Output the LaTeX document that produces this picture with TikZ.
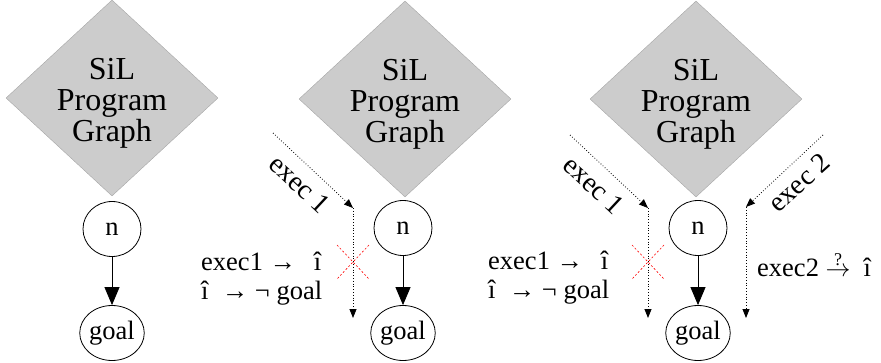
\documentclass[tikz,border=0pt]{standalone}
\usepackage{fontspec}
\setmainfont{Liberation Serif}
\usetikzlibrary{shapes.geometric,arrows.meta}
\begin{document}
\begin{tikzpicture}[x=1pt,y=-1pt,
  prog/.style={diamond, draw=black!35, fill=black!20, minimum width=212pt, minimum height=196pt, inner sep=0pt, aspect=1.08},
  progtext/.style={align=center, inner sep=0pt, font=\fontsize{32}{31}\selectfont},
  state/.style={ellipse, draw, line width=0.8pt, minimum width=58pt, minimum height=55pt, inner sep=0pt, font=\fontsize{26.5}{30}\selectfont},
  trans/.style={draw, line width=0.8pt, -{Triangle[length=18pt,width=15pt]}},
  exec/.style={dotted, line width=0.8pt, -{Triangle[length=9pt,width=7pt]}},
  lbl/.style={font=\fontsize{26.5}{29}\selectfont, inner sep=0pt},
  rlbl/.style={font=\fontsize{28}{29}\selectfont, inner sep=0pt},
  cross/.style={red, line width=0.6pt, dash pattern=on 2pt off 2pt}
]
\useasboundingbox (0,0) rectangle (881,362);

% panel 1
\node[prog] (g1) at (112,98) {};
\node[progtext] (g1t) at (112,103) {SiL\\Program\\Graph};
\node[state] (n1) at (112,229) {n};
\node[state] (goal1) at (112,333) {goal};
\draw[trans] (n1) -- (goal1);

% panel 2
\node[prog] (g2) at (405,99) {};
\node[progtext] (g2t) at (405,104) {SiL\\Program\\Graph};
\node[state] (n2) at (403,228) {n};
\node[state] (goal2) at (403,333) {goal};
\draw[trans] (n2) -- (goal2);
\coordinate (a2s) at (273,133);
\coordinate (a2m) at (353,208);
\coordinate (a2e) at (353,318);
\draw[exec] (a2s) -- (a2m);
\draw[exec] (a2m) -- (a2e);
\node[rlbl, rotate=-43] (l2) at (300,184) {exec 1};
\coordinate (x2a) at (337,245);
\coordinate (x2b) at (369,279);
\coordinate (x2c) at (369,245);
\coordinate (x2d) at (337,279);
\draw[cross] (x2a) -- (x2b);
\draw[cross] (x2c) -- (x2d);
\node[lbl, anchor=west, align=left] (t2) at (201,279) {exec1 → \ \,î\\î \ → ¬ goal};

% panel 3
\node[prog] (g3) at (696,99) {};
\node[progtext] (g3t) at (696,104) {SiL\\Program\\Graph};
\node[state] (n3) at (698,228) {n};
\node[state] (goal3) at (698,333) {goal};
\draw[trans] (n3) -- (goal3);
\coordinate (a3s) at (570,135);
\coordinate (a3m) at (648,208);
\coordinate (a3e) at (648,318);
\draw[exec] (a3s) -- (a3m);
\draw[exec] (a3m) -- (a3e);
\node[rlbl, rotate=-43] (l3) at (594,185) {exec 1};
\coordinate (x3a) at (632,245);
\coordinate (x3b) at (664,279);
\coordinate (x3c) at (664,245);
\coordinate (x3d) at (632,279);
\draw[cross] (x3a) -- (x3b);
\draw[cross] (x3c) -- (x3d);
\node[lbl, anchor=west, align=left] (t3) at (488,278) {exec1 → \ \,î\\î \ → ¬ goal};

\coordinate (b3s) at (823,135);
\coordinate (b3m) at (746,207);
\coordinate (b3e) at (746,318);
\draw[exec] (b3s) -- (b3m);
\draw[exec] (b3m) -- (b3e);
\node[rlbl, rotate=42] (l4) at (799,183) {exec 2};
\node[lbl, anchor=west] (t4) at (757,265) {exec2 $\stackrel{\mbox{\fontsize{18}{18}\selectfont ?}}{\rightarrow}$ \ î};
\end{tikzpicture}
\end{document}
